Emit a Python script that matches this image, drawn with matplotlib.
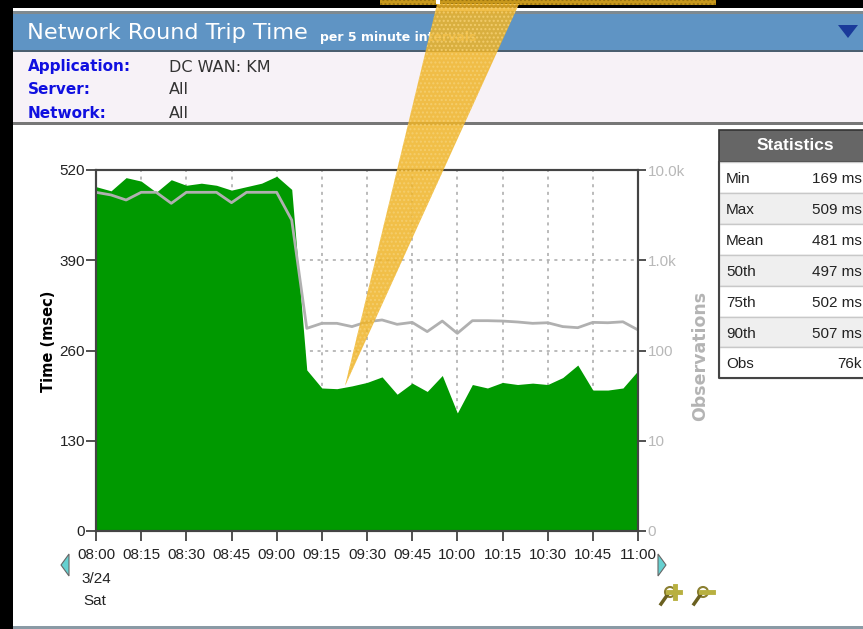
import numpy as np
import matplotlib
matplotlib.use('Agg')
import matplotlib.pyplot as plt
from matplotlib.patches import Rectangle, Polygon, Circle

# Values, one point per 5 minute interval
time_msec = [496, 490, 509, 504, 488, 506, 498, 501, 498, 491, 496, 501, 511, 492,
             232, 206, 205, 209, 214, 222, 197, 213, 201, 224, 170, 211, 206, 214,
             211, 213, 211, 221, 239, 203, 203, 206, 231]
observations = [5660, 5290, 4650, 5660, 5660, 4275, 5660, 5660, 5660, 4345, 5660, 5660, 5660, 2790,
                176, 200, 200, 184, 208, 218, 195, 205, 162, 212, 155, 214, 214, 212,
                207, 200, 203, 184, 179, 205, 203, 208, 169]

tick_labels = ['08:00', '08:15', '08:30', '08:45', '09:00', '09:15', '09:30',
               '09:45', '10:00', '10:15', '10:30', '10:45', '11:00']
time_ticks = [0, 130, 260, 390, 520]
obs_ticks = [1, 10, 100, 1000, 10000]
obs_tick_labels = ['0', '10', '100', '1.0k', '10.0k']

info_labels = ['Application:', 'Server:', 'Network:']
info_values = ['DC WAN: KM', 'All', 'All']
stat_names = ['Min', 'Max', 'Mean', '50th', '75th', '90th', 'Obs']
stat_values = ['169 ms', '509 ms', '481 ms', '497 ms', '502 ms', '507 ms', '76k']

W, H = 863, 629
SANS = 'Liberation Sans'

fig = plt.figure(figsize=(W / 100, H / 100), dpi=100, facecolor='black')

# Page furniture in pixel coordinates
bg = fig.add_axes([0, 0, 1, 1], zorder=0)
bg.set_xlim(0, W)
bg.set_ylim(H, 0)
bg.axis('off')
bg.add_patch(Rectangle((13, 8), 850, 618, fc='white', ec='none'))
bg.add_patch(Rectangle((13, 14), 850, 37, fc='#5f94c4', ec='none'))
bg.add_patch(Rectangle((13, 11), 850, 3, fc='#7f8a90', ec='none'))
bg.add_patch(Rectangle((13, 51), 850, 71, fc='#f7f2f7', ec='none'))
bg.add_patch(Rectangle((13, 50), 850, 2, fc='#4b5f70', ec='none'))
bg.add_patch(Rectangle((13, 122), 850, 3, fc='#777777', ec='none'))
bg.add_patch(Rectangle((13, 626), 850, 3, fc='#8a9aa5', ec='none'))
bg.add_patch(Polygon([[838, 25], [858, 25], [848, 38]], fc='#1a3a9a', ec='none'))

bg.text(27, 33, 'Network Round Trip Time', color='white', fontsize=16.1, va='center', family='DejaVu Sans')
bg.text(320, 37, 'per 5 minute intervals', color='white', fontsize=9, fontweight='bold', va='center',
        family='DejaVu Sans')
for i, (label, value) in enumerate(zip(info_labels, info_values)):
    y = 67 + i * 23
    bg.text(28, y, label, color='#1010e0', fontsize=11, fontweight='bold', va='center', family='DejaVu Sans')
    bg.text(169, y, value, color='#333333', fontsize=11.5, va='center', family='DejaVu Sans')

# Statistics table
bg.add_patch(Rectangle((719, 130), 150, 32, fc='#666666', ec='#333333', lw=1.2))
bg.text(795, 146, 'Statistics', color='white', fontsize=12.5, fontweight='bold', ha='center', va='center',
        family=SANS)
for i, (name, value) in enumerate(zip(stat_names, stat_values)):
    top = 162 + i * 30.9
    bg.add_patch(Rectangle((719, top), 150, 30.9, fc='#efefef' if i % 2 else 'white', ec='#c8c8c8', lw=1))
    bg.text(726, top + 17, name, color='#222222', fontsize=11, va='center', family=SANS)
    bg.text(862, top + 17, value, color='#222222', fontsize=11, ha='right', va='center', family=SANS)
bg.plot([719, 719, 863], [162, 378, 378], color='#444444', lw=1.5)

# Chart
left, right, top, bottom = 96, 638, 170, 531
ax = fig.add_axes([left / W, 1 - bottom / H, (right - left) / W, (bottom - top) / H], zorder=1)
minutes = np.arange(len(time_msec)) * 5
ax.fill_between(minutes, time_msec, 0, color='#009900', lw=0, zorder=2)
ax.set_xlim(0, 180)
ax.set_ylim(0, 520)
ax.set_xticks(minutes[::3])
ax.set_xticklabels(tick_labels, family=SANS, fontsize=11, color='#222222')
ax.set_yticks(time_ticks)
ax.set_yticklabels(time_ticks, family=SANS, fontsize=11, color='#222222')
ax.grid(True, color='#a8a8a8', ls=(0, (2, 3)), lw=1.1, zorder=1)
ax.tick_params(axis='x', length=7, width=1.2, color='#333333', pad=5)
ax.tick_params(axis='y', length=7, width=1.2, color='#333333', pad=1)
ax.set_ylabel('Time (msec)', fontweight='bold', fontsize=10.5, family='DejaVu Sans')
ax.yaxis.set_label_coords((56 - left) / (right - left), (bottom - 341) / (bottom - top))

ax2 = ax.twinx()
ax2.set_zorder(2)
ax2.plot(minutes, observations, color='#b0b0b0', lw=2)
ax2.set_yscale('log')
ax2.set_ylim(1, 10000)
ax2.set_yticks(obs_ticks)
ax2.set_yticklabels(obs_tick_labels, family=SANS, fontsize=11, color='#b8b8b8')
ax2.minorticks_off()
ax2.tick_params(length=6, width=1.2, color='#333333', pad=1)
ax2.set_ylabel('Observations', fontweight='bold', fontsize=12.5, color='#b4b4b4', family='DejaVu Sans')
ax2.yaxis.set_label_coords((691 - left) / (right - left), (bottom - 356) / (bottom - top))
for a in (ax, ax2):
    for s in a.spines.values():
        s.set_color('#444444')
        s.set_linewidth(1.5)

# Overlay: date labels, arrows, zoom icons and the orange callout
over = fig.add_axes([0, 0, 1, 1], zorder=3)
over.set_xlim(0, W)
over.set_ylim(H, 0)
over.axis('off')
over.patch.set_alpha(0)
over.text(96, 579, '3/24', fontsize=11, color='#222222', ha='center', va='center', family=SANS)
over.text(95, 601, 'Sat', fontsize=11, color='#222222', ha='center', va='center', family=SANS)
over.add_patch(Polygon([[61, 565], [69, 554], [69, 576]], fc='#66d0d0', ec='#666666', lw=0.8))
over.add_patch(Polygon([[666, 565], [658, 554], [658, 576]], fc='#66d0d0', ec='#666666', lw=0.8))
for x, y in [(672, 592), (705, 592)]:
    over.plot([x - 11, x - 4], [y + 12, y + 2], color='#6a6020', lw=2.5)
    over.add_patch(Circle((x - 2, y), 5, fc='white', ec='#8a7f30', lw=1.5))
    over.plot([x - 4, x + 8], [y, y], color='#b8b040', lw=3.5)
over.plot([675, 675], [586, 598], color='#b8b040', lw=3.5)
over.add_patch(Rectangle((380, 0), 336, 5, fc='#c8981c', ec='#9a7410', hatch='....', lw=0))
over.add_patch(Rectangle((436, 0), 4, 4, fc='white', ec='none'))
over.add_patch(Polygon([[345, 386], [437, 4], [519, 4]], fc='#efb428', ec='#f5cf70', hatch='....', lw=0, alpha=0.85))

fig.savefig('out.png', dpi=100, facecolor='black')
